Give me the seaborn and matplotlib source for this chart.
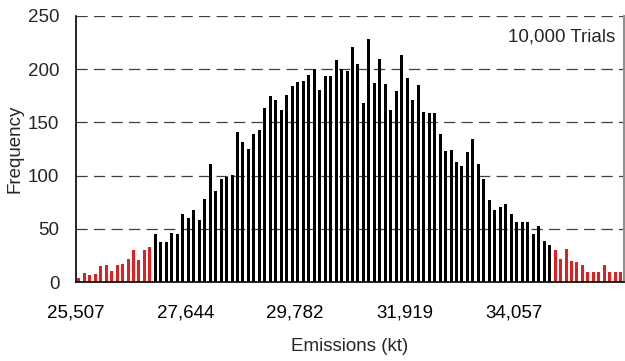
import numpy as np
import pandas as pd
import matplotlib
matplotlib.use("Agg")
import matplotlib.pyplot as plt
import seaborn as sns

# frequency per emissions bin (100 bins)
freq = [4, 9, 7, 8, 15, 16, 11, 16, 17, 22,
        30, 21, 30, 33, 45, 38, 38, 46, 45, 64,
        60, 68, 58, 78, 111, 86, 97, 99, 101, 141,
        132, 125, 139, 143, 163, 175, 171, 162, 176, 184,
        188, 189, 194, 200, 180, 193, 193, 208, 200, 198,
        221, 205, 168, 228, 187, 209, 186, 162, 179, 213,
        192, 171, 185, 160, 159, 159, 139, 123, 124, 113,
        109, 122, 134, 111, 97, 77, 68, 71, 73, 64,
        57, 57, 57, 45, 53, 39, 35, 30, 22, 31,
        20, 19, 16, 10, 10, 10, 16, 10, 10, 10]
n_low_tail = 14    # bins drawn red on the left
n_high_tail = 13   # bins drawn red on the right
tick_labels = ["25,507", "27,644", "29,782", "31,919", "34,057"]

n = len(freq)
group = ["tail" if (i < n_low_tail or i >= n - n_high_tail) else "core" for i in range(n)]
df = pd.DataFrame({"bin": np.arange(n), "freq": freq, "group": group})

sns.set_style("white")
plt.rcParams["font.family"] = ["Liberation Sans", "DejaVu Sans"]
fs = 13.5

fig = plt.figure(figsize=(6.25, 3.61), dpi=100)
ax = fig.add_axes([0.1216, 0.218, 0.876, 0.7385])

for v in [50, 100, 150, 200, 250]:
    ax.axhline(v, color="#404040", lw=0.9, ls=(0, (9, 5)), zorder=0)

sns.barplot(data=df, x="bin", y="freq", hue="group",
            palette={"core": "black", "tail": "#ff0000"},
            dodge=False, width=0.55, legend=False, ax=ax, zorder=2,
            linewidth=0, antialiased=False)

ax.set_xlim(-0.5, n - 0.5)
ax.set_ylim(0, 250)
ax.set_yticks([0, 50, 100, 150, 200, 250])
ax.set_xticks(np.arange(len(tick_labels)) * 20 - 0.5)
ax.set_xticklabels(tick_labels)
ax.set_xticks(np.arange(0, n + 1, 10) - 0.5, minor=True)
ax.tick_params(axis="x", which="major", length=0, pad=16, labelsize=fs, colors="black")
ax.tick_params(axis="x", which="minor", length=4, direction="in", color="#808080", width=1.5)
ax.tick_params(axis="y", length=0, pad=12, labelsize=fs)

ax.set_xlabel("Emissions (kt)", fontsize=fs, labelpad=12)
ax.set_ylabel("Frequency", fontsize=fs, labelpad=3)

for s in ["left", "bottom"]:
    ax.spines[s].set_color("black")
    ax.spines[s].set_linewidth(1.2)
ax.spines["top"].set_visible(False)
ax.spines["right"].set_color("#909090")
ax.spines["right"].set_linewidth(1.5)

ax.text(0.985, 0.92, "10,000 Trials", transform=ax.transAxes,
        ha="right", va="center", fontsize=fs)

fig.savefig("out.png", dpi=100)
